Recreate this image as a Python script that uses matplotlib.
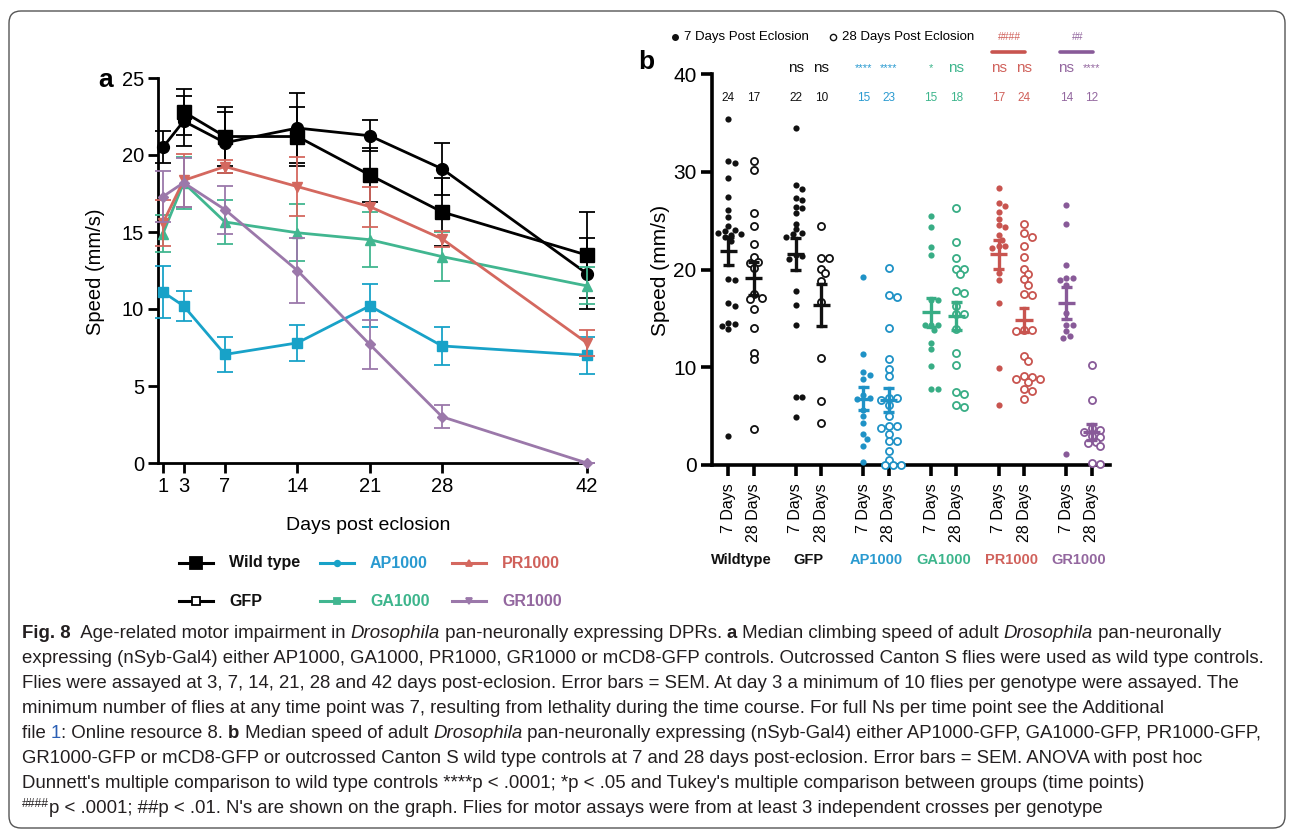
import numpy as np
import matplotlib
matplotlib.use('Agg')
import matplotlib.pyplot as plt
from matplotlib.lines import Line2D
from matplotlib.patches import FancyBboxPatch
from matplotlib.transforms import IdentityTransform, blended_transform_factory

# ---------------- data: panel a (mean speed over time) ----------------
days = [1, 3, 7, 14, 21, 28, 42]
nan = np.nan
wt_mean = [nan, 22.8, 21.2, 21.2, 18.7, 16.3, 13.5]
wt_sem = [nan, 1.5, 1.9, 1.9, 1.75, 2.2, 2.8]
gfp_mean = [20.5, 22.2, 20.8, 21.75, 21.25, 19.1, 12.3]
gfp_sem = [1.05, 1.6, 2.0, 2.3, 1.0, 1.7, 2.3]
ap_mean = [11.1, 10.2, 7.05, 7.8, 10.2, 7.6, 7.0]
ap_sem = [1.7, 1.0, 1.15, 1.15, 1.4, 1.25, 1.2]
ga_mean = [14.9, 18.2, 15.65, 14.95, 14.5, 13.4, 11.5]
ga_sem = [1.2, 1.7, 1.45, 1.85, 1.8, 1.6, 1.2]
pr_mean = [15.6, 18.35, 19.25, 17.95, 16.65, 14.55, 7.8]
pr_sem = [1.5, 1.7, 0.4, 1.9, 1.3, 0.5, 0.85]
gr_mean = [17.3, 18.2, 16.45, 12.5, 7.7, 3.0, 0.0]
gr_sem = [1.65, 1.6, 1.55, 2.1, 1.6, 0.75, 0.0]

# ---------------- data: panel b (individual flies, 7 and 28 days) ----------------
groups = ['Wildtype', 'GFP', 'AP1000', 'GA1000', 'PR1000', 'GR1000']
tick_names = ['7 Days', '28 Days']
wt7 = [35.4, 31.1, 30.9, 29.4, 27.4, 26.1, 25.4, 24.4, 24.0, 23.9, 23.7, 23.6,
       23.5, 23.3, 22.9, 19.0, 18.9, 16.6, 16.3, 14.5, 14.4, 14.2, 13.9, 3.0]
wt28 = [31.1, 30.2, 25.8, 24.5, 22.6, 21.3, 20.8, 20.7, 20.2, 17.5, 17.1, 17.0,
        16.0, 14.0, 11.5, 10.8, 3.7]
gfp7 = [34.5, 28.6, 28.2, 27.3, 27.1, 26.4, 26.3, 25.8, 24.7, 24.1, 23.7, 23.6,
        23.3, 21.5, 21.4, 21.1, 17.8, 16.4, 14.3, 7.0, 7.0, 4.9]
gfp28 = [24.5, 21.2, 21.2, 20.1, 19.6, 18.8, 16.7, 10.9, 6.5, 4.3]
ap7 = [19.2, 11.4, 9.5, 9.2, 8.8, 7.2, 6.9, 6.8, 5.6, 5.0, 4.3, 3.2, 2.7, 1.9, 0.3]
ap28 = [20.2, 17.4, 17.2, 14.0, 10.8, 9.8, 9.1, 6.9, 6.9, 6.7, 6.1, 5.0, 4.0, 4.0,
        3.8, 3.2, 2.5, 2.5, 1.4, 0.5, 0.0, 0.0, 0.0]
ga7 = [25.5, 24.3, 22.3, 21.5, 16.9, 16.9, 14.3, 14.3, 14.3, 13.8, 12.5, 11.9,
       10.1, 7.8, 7.8]
ga28 = [26.3, 22.8, 21.2, 20.1, 20.1, 19.5, 17.8, 17.6, 16.3, 15.4, 15.4, 13.9,
        11.5, 10.2, 7.5, 7.3, 6.1, 5.9]
pr7 = [28.3, 26.8, 26.5, 25.9, 25.2, 24.6, 24.3, 23.5, 23.0, 22.4, 22.4, 22.2,
       19.6, 18.9, 16.6, 9.9, 6.1]
pr28 = [24.7, 23.7, 23.3, 22.4, 21.3, 20.1, 19.5, 19.0, 18.4, 17.5, 17.4, 13.8,
        13.8, 13.7, 11.1, 10.6, 9.1, 9.0, 8.8, 8.8, 8.5, 7.8, 7.6, 6.8]
gr7 = [26.6, 24.7, 20.5, 19.1, 19.1, 18.9, 18.4, 15.5, 14.3, 14.3, 13.7, 13.2, 13.0, 1.1]
gr28 = [10.2, 6.6, 3.8, 3.6, 3.4, 3.0, 2.9, 2.4, 2.3, 1.9, 0.2, 0.1]
stats_b = ['', '', 'ns', 'ns', '****', '****', '*', 'ns', 'ns', 'ns', 'ns', '****']
n_b = [24, 17, 22, 10, 15, 23, 15, 18, 17, 24, 14, 12]

# colours
col_a = ['black', 'black', '#18a2c8', '#41b690', '#d4685f', '#9b78aa']
col_b = ['#111111', '#111111', '#1f92c6', '#38ad85', '#c8544f', '#885a98']
col_txt = ['#111111', '#111111', '#2a9ad0', '#3db58c', '#d0615b', '#93679f']

W, H = 1290, 833
fig = plt.figure(figsize=(12.9, 8.33), dpi=100)
plt.rcParams['font.family'] = ['Liberation Sans', 'DejaVu Sans']


def fx(x):
    return x / W


def fy(y):
    return 1 - y / H


# outer rounded frame
fig.add_artist(FancyBboxPatch((9, H - 828), 1276, 817, boxstyle='round,pad=0,rounding_size=12',
                              transform=IdentityTransform(), fc='none', ec='#555555', lw=1.0))

# ================= panel a =================
axA = fig.add_axes([fx(158), fy(463), fx(590) - fx(158), fy(78) - fy(463)])
series = [(wt_mean, wt_sem, 's', 10), (gfp_mean, gfp_sem, 'o', 8.5), (ap_mean, ap_sem, 's', 7.5),
          (ga_mean, ga_sem, '^', 7.5), (pr_mean, pr_sem, 'v', 7.5), (gr_mean, gr_sem, 'D', 5.5)]
order = [2, 3, 4, 5, 1, 0]
for k in order:
    m, s, mk, ms = series[k]
    axA.errorbar(days, m, yerr=s, color=col_a[k], marker=mk, ms=ms, lw=2, elinewidth=1.3,
                 capsize=5.5, capthick=1.3, clip_on=False, zorder=3 + k)
axA.set_xlim(0.52, 42.3)
axA.set_ylim(0, 25)
axA.set_xticks(days)
axA.set_yticks(range(0, 26, 5))
for sp in ['top', 'right']:
    axA.spines[sp].set_visible(False)
for sp in ['left', 'bottom']:
    axA.spines[sp].set_linewidth(2)
axA.tick_params(direction='out', length=7, width=2, labelsize=14.5, pad=3)
fig.text(fx(95), fy(272), 'Speed (mm/s)', rotation=90, ha='center', va='center', fontsize=14.5)
fig.text(fx(368), fy(525), 'Days post eclosion', ha='center', va='center', fontsize=14)
fig.text(fx(106), fy(80), 'a', ha='center', va='center', fontsize=19, fontweight='bold')

# legend panel a
leg_names = ['Wild type', 'GFP', 'AP1000', 'GA1000', 'PR1000', 'GR1000']
leg_mk = [('s', 8, 'k'), ('s', 5.5, 'white'), ('o', 4, None), ('s', 4, None), ('^', 4, None), ('v', 4, None)]
col_x = [179, 320, 452]
row_y = [563, 601]
for i, name in enumerate(leg_names):
    c, r = [0, 0, 1, 1, 2, 2][i], [0, 1, 0, 1, 0, 1][i]
    x0 = col_x[c]
    y0 = row_y[r]
    mk, ms, fc = leg_mk[i]
    fig.add_artist(Line2D([fx(x0), fx(x0 + 34)], [fy(y0), fy(y0)], color=col_a[i], lw=2.2))
    fig.add_artist(Line2D([fx(x0 + 17)], [fy(y0)], color=col_a[i], marker=mk, ms=ms,
                          mfc=fc if fc else col_a[i], mec=col_a[i], mew=1.3))
    fig.text(fx(x0 + 50), fy(y0), name, ha='left', va='center', fontsize=11.5,
             fontweight='bold', color=col_txt[i])

# ================= panel b =================
axB = fig.add_axes([fx(712), fy(465), (1110 - 712) / W, (465 - 74) / H])
axB.set_xlim(-0.72, 16.94)
axB.set_ylim(0, 40)
cols_b = [wt7, wt28, gfp7, gfp28, ap7, ap28, ga7, ga28, pr7, pr28, gr7, gr28]
pos = [g * 3 + d for g in range(6) for d in (0, 1.125)]

fig.canvas.draw()


def swarm(vals, center, diam, gap):
    vals = np.asarray(vals, float)
    cx = axB.transData.transform((center, 0))[0]
    ypx = axB.transData.transform(np.column_stack([np.full(len(vals), center), vals]))[:, 1]
    placed = []
    xs_px = np.zeros(len(vals))
    for i in np.argsort(-vals):
        step = diam * 0.5
        for k in range(60):
            cands = [0.0] if k == 0 else [k * step, -k * step]
            ok = None
            for off in cands:
                if all(np.hypot(off - px, ypx[i] - py) >= diam * gap for px, py in placed):
                    ok = off
                    break
            if ok is not None:
                break
        placed.append((ok, ypx[i]))
        xs_px[i] = cx + ok
    inv = axB.transData.inverted()
    return inv.transform(np.column_stack([xs_px, ypx]))[:, 0]


for j, vals in enumerate(cols_b):
    g = j // 2
    c = col_b[g]
    filled = (j % 2 == 0)
    if filled:
        xs = swarm(vals, pos[j], 6.5, 0.85)
        axB.scatter(xs, vals, s=20, color=c, zorder=3, clip_on=False, linewidths=0)
    else:
        xs = swarm(vals, pos[j], 8.0, 0.78)
        axB.scatter(xs, vals, s=26, facecolor='white', edgecolor=c, linewidths=1.3,
                    zorder=3, clip_on=False)
    m = np.mean(vals)
    se = np.std(vals, ddof=1) / np.sqrt(len(vals))
    axB.plot([pos[j] - 0.38, pos[j] + 0.38], [m, m], color=c, lw=2.4, zorder=4, solid_capstyle='butt')
    axB.plot([pos[j], pos[j]], [m - se, m + se], color=c, lw=2.4, zorder=4)
    for yy in (m - se, m + se):
        axB.plot([pos[j] - 0.24, pos[j] + 0.24], [yy, yy], color=c, lw=2.4, zorder=4,
                 solid_capstyle='butt')
    # stats and N labels
    if stats_b[j]:
        small = stats_b[j].startswith('*')
        axB.text(pos[j], 40.6, stats_b[j], ha='center', va='center',
                 fontsize=8 if small else 11, color=col_txt[g], clip_on=False)
    axB.text(pos[j], 37.5, str(n_b[j]), ha='center', va='center', fontsize=8.5,
             color=col_txt[g], clip_on=False)

axB.set_xticks(pos)
axB.set_xticklabels(tick_names * 6, rotation=90, fontsize=11.5)
axB.set_yticks(range(0, 41, 10))
axB.set_yticklabels([str(v) for v in range(0, 41, 10)], fontsize=15)
for sp in ['top', 'right']:
    axB.spines[sp].set_visible(False)
for sp in ['left', 'bottom']:
    axB.spines[sp].set_linewidth(2.6)
axB.tick_params(direction='out', length=8, width=2.6, pad=3)
axB.tick_params(axis='x', pad=5)
fig.text(fx(660), fy(270), 'Speed (mm/s)', rotation=90, ha='center', va='center', fontsize=15)
fig.text(fx(646), fy(62), 'b', ha='center', va='center', fontsize=19, fontweight='bold')

tr = blended_transform_factory(axB.transData, fig.transFigure)
for g, name in enumerate(groups):
    axB.text(g * 3 + 0.5625, fy(560), name, transform=tr, ha='center', va='center',
             fontsize=10.5, fontweight='bold', color=col_txt[g], clip_on=False)

# tukey comparison bars
for g, lab in [(4, '####'), (5, '##')]:
    axB.plot([g * 3 - 0.3, g * 3 + 1.125 + 0.05], [42.3, 42.3], color=col_b[g], lw=2.6,
             clip_on=False, solid_capstyle='round')
    axB.text(g * 3 + 0.5, 43.8, lab, ha='center', va='center', fontsize=7.5,
             color=col_txt[g], clip_on=False)

# legend panel b
fig.add_artist(Line2D([fx(675)], [fy(37)], marker='o', ms=4, color='#111111', lw=0))
fig.text(fx(684), fy(37), '7 Days Post Eclosion', ha='left', va='center', fontsize=9.5)
fig.add_artist(Line2D([fx(833)], [fy(37)], marker='o', ms=4.5, mfc='white', mec='#111111',
                      mew=1, lw=0))
fig.text(fx(842), fy(37), '28 Days Post Eclosion', ha='left', va='center', fontsize=9.5)

# ================= caption =================
renderer = fig.canvas.get_renderer()
BASE = {'color': '#231f20'}


def width_of(txt, kw, size):
    t1 = fig.text(0, 0, '|' + txt + '|', fontsize=size, **kw)
    t2 = fig.text(0, 0, '||', fontsize=size, **kw)
    w = t1.get_window_extent(renderer).width - t2.get_window_extent(renderer).width
    t1.remove()
    t2.remove()
    return w


B = {'fontweight': 'bold'}
I = {'style': 'italic'}
R = {}
caption = [
    [('Fig. 8', B), ('  Age-related motor impairment in ', R), ('Drosophila', I),
     (' pan-neuronally expressing DPRs. ', R), ('a', B), (' Median climbing speed of adult ', R),
     ('Drosophila', I), (' pan-neuronally', R)],
    [('expressing (nSyb-Gal4) either AP1000, GA1000, PR1000, GR1000 or mCD8-GFP controls. '
      'Outcrossed Canton S flies were used as wild type controls.', R)],
    [('Flies were assayed at 3, 7, 14, 21, 28 and 42 days post-eclosion. Error bars = SEM. '
      'At day 3 a minimum of 10 flies per genotype were assayed. The', R)],
    [('minimum number of flies at any time point was 7, resulting from lethality during the '
      'time course. For full Ns per time point see the Additional', R)],
    [('file ', R), ('1', {'color': '#2b5fb4'}), (': Online resource 8. ', R), ('b', B),
     (' Median speed of adult ', R), ('Drosophila', I),
     (' pan-neuronally expressing (nSyb-Gal4) either AP1000-GFP, GA1000-GFP, PR1000-GFP,', R)],
    [('GR1000-GFP or mCD8-GFP or outcrossed Canton S wild type controls at 7 and 28 days '
      'post-eclosion. Error bars = SEM. ANOVA with post hoc', R)],
    [("Dunnett's multiple comparison to wild type controls ****p < .0001; *p < .05 and Tukey's "
      "multiple comparison between groups (time points)", R)],
    [('####', {'sup': True}), ("p < .0001; ##p < .01. N's are shown on the graph. Flies for motor "
                               "assays were from at least 3 independent crosses per genotype", R)],
]
line_end = [1263, 1265, 1251, 1238, 1264, 1143, 1190, 1128]
line_y = [638, 663, 688, 713, 738, 763, 788, 813]


def style_kw(st):
    return {**BASE, **{k: v for k, v in st.items() if k != 'sup'}}


# one common size for the caption: typical fit, but no line may run past the frame
ratios, widths = [], []
for li, runs in enumerate(caption):
    w10 = sum(width_of(t, style_kw(st), 6.5 if st.get('sup') else 10) for t, st in runs)
    widths.append(w10)
    ratios.append((line_end[li] - 22) / w10)
scale = min(np.median(ratios), min((1272 - 22) / w for w in widths))
size = 10 * scale
for li, runs in enumerate(caption):
    x = 22
    for txt, st in runs:
        kw = style_kw(st)
        sz = size * 0.65 if st.get('sup') else size
        yy = line_y[li] - (6 if st.get('sup') else 0)
        fig.text(fx(x), fy(yy), txt, fontsize=sz, ha='left', va='baseline', **kw)
        x += width_of(txt, kw, sz)

fig.savefig('out.png', dpi=100)
